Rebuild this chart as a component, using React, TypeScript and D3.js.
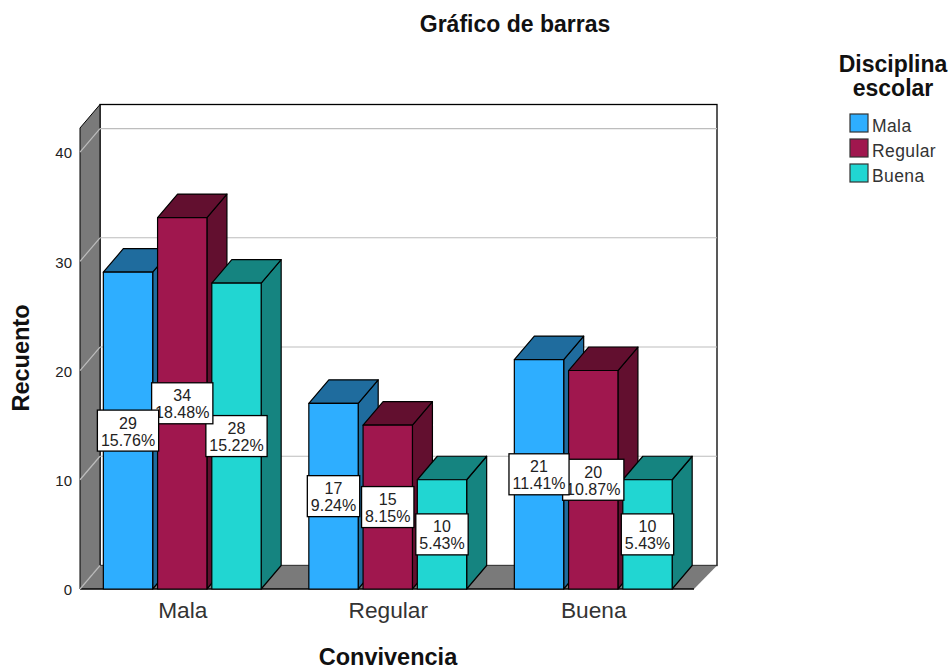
import { useEffect, useRef } from "react";
import * as d3 from "d3";

const categories = ["Mala", "Regular", "Buena"];
const seriesNames = ["Mala", "Regular", "Buena"];
const counts = [
  [29, 34, 28],
  [17, 15, 10],
  [21, 20, 10],
];
const percents = [
  ["15.76%", "18.48%", "15.22%"],
  ["9.24%", "8.15%", "5.43%"],
  ["11.41%", "10.87%", "5.43%"],
];
const yTicks = [0, 10, 20, 30, 40];
const frontColors = ["#2eaeff", "#a0174e", "#21d6d2"];
const sideColors = ["#1f6c9e", "#620f2f", "#158480"];

const width = 952;
const height = 670;
const font = "'Liberation Sans', Arial, sans-serif";

// 3D offset of the back of the chart
const depthX = 20;
const depthY = -23.5;
const wallColor = "#7a7a7a";
const gridColor = "#bdbdbd";

export default function App() {
  const svgRef = useRef<SVGSVGElement>(null);

  useEffect(() => {
    if (!svgRef.current) return;
    const svg = d3.select(svgRef.current);
    svg.selectAll("*").remove();

    const left = 80;
    const right = 694;
    const backRight = 717;
    const bottom = 589;
    const yTop = 42.2;

    const y = d3.scaleLinear().domain([0, yTop]).range([bottom, 128]);
    const x0 = d3.scaleBand().domain(categories).range([80, 696.5]);
    const x1 = d3
      .scaleBand()
      .domain(seriesNames)
      .range([-80.5, 79.5])
      .paddingInner(0.09)
      .paddingOuter(0.02);

    const poly = (pts: number[][]) => pts.map((p) => p.join(",")).join(" ");

    // Back wall
    svg
      .append("rect")
      .attr("x", left + depthX)
      .attr("y", y(yTop) + depthY)
      .attr("width", backRight - left - depthX)
      .attr("height", bottom - y(yTop))
      .attr("fill", "#fff")
      .attr("stroke", "#000")
      .attr("stroke-width", 1.3);

    // Side wall and floor
    svg
      .append("polygon")
      .attr(
        "points",
        poly([
          [left, y(yTop)],
          [left + depthX, y(yTop) + depthY],
          [left + depthX, bottom + depthY],
          [left, bottom],
        ])
      )
      .attr("fill", wallColor)
      .attr("stroke", "#000")
      .attr("stroke-width", 1);

    svg
      .append("polygon")
      .attr(
        "points",
        poly([
          [left, bottom],
          [left + depthX, bottom + depthY],
          [backRight, bottom + depthY],
          [right, bottom],
        ])
      )
      .attr("fill", wallColor)
      .attr("stroke", "none");

    svg
      .append("line")
      .attr("x1", left)
      .attr("x2", right)
      .attr("y1", bottom)
      .attr("y2", bottom)
      .attr("stroke", "#000")
      .attr("stroke-width", 1.3);

    // Gridlines
    const grid = svg.append("g").attr("stroke", gridColor).attr("stroke-width", 1.2);
    yTicks.slice(1).forEach((t) => {
      grid
        .append("line")
        .attr("x1", left)
        .attr("y1", y(t))
        .attr("x2", left + depthX)
        .attr("y2", y(t) + depthY);
      grid
        .append("line")
        .attr("x1", left + depthX)
        .attr("x2", backRight)
        .attr("y1", y(t) + depthY)
        .attr("y2", y(t) + depthY);
    });
    grid
      .append("line")
      .attr("x1", left)
      .attr("y1", bottom)
      .attr("x2", left + depthX)
      .attr("y2", bottom + depthY);

    // Bars
    const barW = x1.bandwidth();
    categories.forEach((cat, i) => {
      const cx = x0(cat)! + x0.bandwidth() / 2;
      seriesNames.forEach((name, j) => {
        const g = svg.append("g").attr("stroke", "#000").attr("stroke-width", 1.2).attr("stroke-linejoin", "round");
        const bx = cx + x1(name)!;
        const top = y(counts[i][j]);
        g.append("polygon")
          .attr(
            "points",
            poly([
              [bx + barW, top],
              [bx + barW + depthX, top + depthY],
              [bx + barW + depthX, bottom + depthY],
              [bx + barW, bottom],
            ])
          )
          .attr("fill", sideColors[j]);
        g.append("polygon")
          .attr(
            "points",
            poly([
              [bx, top],
              [bx + depthX, top + depthY],
              [bx + barW + depthX, top + depthY],
              [bx + barW, top],
            ])
          )
          .attr("fill", sideColors[j]);
        g.append("rect")
          .attr("x", bx)
          .attr("y", top)
          .attr("width", barW)
          .attr("height", bottom - top)
          .attr("fill", frontColors[j]);
      });
    });

    // Value labels, last series first so the earlier boxes sit on top
    categories.forEach((cat, i) => {
      const cx = x0(cat)! + x0.bandwidth() / 2;
      [2, 1, 0].forEach((j) => {
        const bx = cx + x1(seriesNames[j])! + barW / 2;
        const midY = y(counts[i][j] / 2);
        const g = svg.append("g");
        const box = g
          .append("rect")
          .attr("fill", "#fff")
          .attr("stroke", "#000")
          .attr("stroke-width", 1.3);
        const label = g
          .append("text")
          .attr("text-anchor", "middle")
          .attr("font-family", font)
          .attr("font-size", 16)
          .attr("fill", "#222");
        label.append("tspan").attr("x", bx).attr("y", midY - 2).text(counts[i][j]);
        const pct = label.append("tspan").attr("x", bx).attr("y", midY + 15).text(percents[i][j]);
        const w = (pct.node() as SVGTSpanElement).getComputedTextLength() + 7;
        box
          .attr("x", bx - w / 2)
          .attr("y", midY - 20.5)
          .attr("width", w)
          .attr("height", 41);
      });
    });

    // Axes
    const yAxis = svg
      .append("g")
      .attr("transform", `translate(${left},1)`)
      .call(d3.axisLeft(y).tickValues(yTicks).tickSize(0).tickPadding(8));
    yAxis.select(".domain").remove();
    yAxis.selectAll("text").attr("font-family", font).attr("font-size", 15).attr("fill", "#222");

    const xAxis = svg
      .append("g")
      .attr("transform", `translate(0,${bottom})`)
      .call(d3.axisBottom(x0).tickSize(0).tickPadding(13));
    xAxis.select(".domain").remove();
    xAxis.selectAll("text").attr("font-family", font).attr("font-size", 22.7).attr("fill", "#333");

    // Titles
    const title = (tx: number, ty: number, text: string, size: number) =>
      svg
        .append("text")
        .attr("x", tx)
        .attr("y", ty)
        .attr("text-anchor", "middle")
        .attr("font-family", font)
        .attr("font-weight", "bold")
        .attr("font-size", size)
        .attr("fill", "#111")
        .text(text);

    title(515, 32, "Gráfico de barras", 23);
    title(388, 665, "Convivencia", 23.5);
    title(0, 0, "Recuento", 23.5).attr("transform", "translate(29,358) rotate(-90)");
    title(893, 72, "Disciplina", 23);
    title(893, 96, "escolar", 23);

    // Legend
    const legendY = d3.scalePoint().domain(seriesNames).range([114, 164]);
    seriesNames.forEach((name, j) => {
      svg
        .append("rect")
        .attr("x", 850)
        .attr("y", legendY(name)!)
        .attr("width", 18)
        .attr("height", 18)
        .attr("fill", frontColors[j])
        .attr("stroke", "#333")
        .attr("stroke-width", 1.2);
      svg
        .append("text")
        .attr("x", 872)
        .attr("y", legendY(name)! + 18)
        .attr("font-family", font)
        .attr("font-size", 17.5)
        .attr("letter-spacing", 0.4)
        .attr("fill", "#333")
        .text(name);
    });
  }, []);

  return (
    <svg
      ref={svgRef}
      width={width}
      height={height}
      style={{ position: "absolute", top: 0, left: 0, background: "#fff" }}
    />
  );
}
